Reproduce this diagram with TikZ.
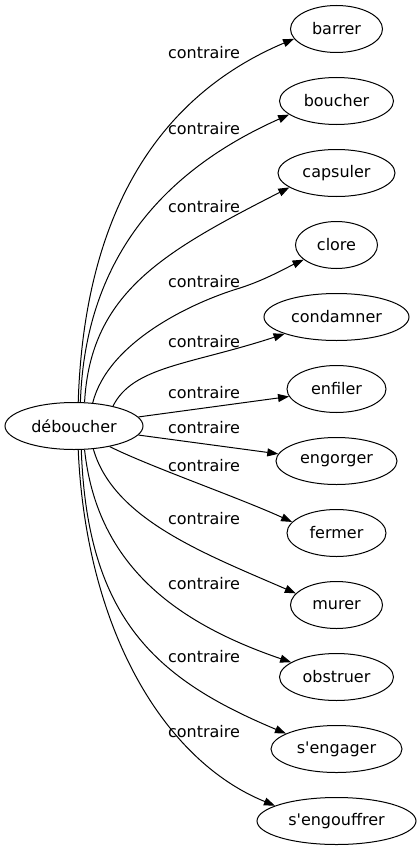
\documentclass[tikz,border=0pt]{standalone}
\usepackage{fontspec}
\setmainfont{DejaVu Sans}
\usetikzlibrary{shapes.geometric,arrows.meta}
\begin{document}
\begin{tikzpicture}[x=1pt,y=-1pt,
  word/.style={ellipse,draw,line width=1pt,inner sep=0pt,minimum height=47pt,font=\fontsize{16}{19}\selectfont},
  lab/.style={inner sep=0pt,font=\fontsize{16}{19}\selectfont},
  edge/.style={line width=1pt,-{Triangle[length=11pt,width=8pt]}}]
\useasboundingbox (0,0) rectangle (420,851);
\node[word,minimum width=138pt] (deb) at (74,426) {déboucher};
\node[word,minimum width=92pt]  (n1)  at (336.5,29)  {barrer};
\node[word,minimum width=114pt] (n2)  at (336.5,101) {boucher};
\node[word,minimum width=117pt] (n3)  at (336.5,173) {capsuler};
\node[word,minimum width=82pt]  (n4)  at (336.5,245) {clore};
\node[word,minimum width=145pt] (n5)  at (336.5,317) {condamner};
\node[word,minimum width=99pt]  (n6)  at (336.5,389) {enfiler};
\node[word,minimum width=121pt] (n7)  at (336.5,461) {engorger};
\node[word,minimum width=99pt]  (n8)  at (336.5,533) {fermer};
\node[word,minimum width=92pt]  (n9)  at (336.5,605) {murer};
\node[word,minimum width=114pt] (n10) at (336.5,677) {obstruer};
\node[word,minimum width=131pt] (n11) at (336.5,749) {s\textquotesingle engager};
\node[word,minimum width=159pt] (n12) at (336.5,821) {s\textquotesingle engouffrer};
\node[lab] (l1)  at (204,53)  {contraire};
\node[lab] (l2)  at (204,129) {contraire};
\node[lab] (l3)  at (204,207) {contraire};
\node[lab] (l4)  at (204,282) {contraire};
\node[lab] (l5)  at (204,342) {contraire};
\node[lab] (l6)  at (204,393) {contraire};
\node[lab] (l7)  at (204,428) {contraire};
\node[lab] (l8)  at (204,466) {contraire};
\node[lab] (l9)  at (204,519) {contraire};
\node[lab] (l10) at (204,584) {contraire};
\node[lab] (l11) at (204,657) {contraire};
\node[lab] (l12) at (204,732) {contraire};
\draw[edge] (deb.80) .. controls +(6,-190) and +(-135,57) .. (n1.193);
\draw[edge] (deb.75) .. controls +(5,-150) and +(-119,53) .. (n2.196);
\draw[edge] (deb.66) .. controls +(6,-110) and +(-125,64) .. (n3.197);
\draw[edge] (deb.51) .. controls +(15,-60) and +(-50,15) .. (240,288) .. controls +(25,-8) and +(-18,8.5) .. (n4.204);
\draw[edge] (deb.27) .. controls +(20,-40) and +(-95,31) .. (n5.198);
\draw[edge] (deb.8) -- (n6.189);
\draw[edge] (deb.-8) -- (n7.173);
\draw[edge] (deb.-30) .. controls +(40,20) and +(-55,-25) .. (n8.166);
\draw[edge] (deb.-50) .. controls +(20,70) and +(-92,-40) .. (n9.164);
\draw[edge] (deb.-66) .. controls +(12,110) and +(-123,-42) .. (n10.162);
\draw[edge] (deb.-73) .. controls +(6,170) and +(-129,-54) .. (n11.163);
\draw[edge] (deb.-80) .. controls +(8,180) and +(-111,-45) .. (n12.166);
\end{tikzpicture}
\end{document}
